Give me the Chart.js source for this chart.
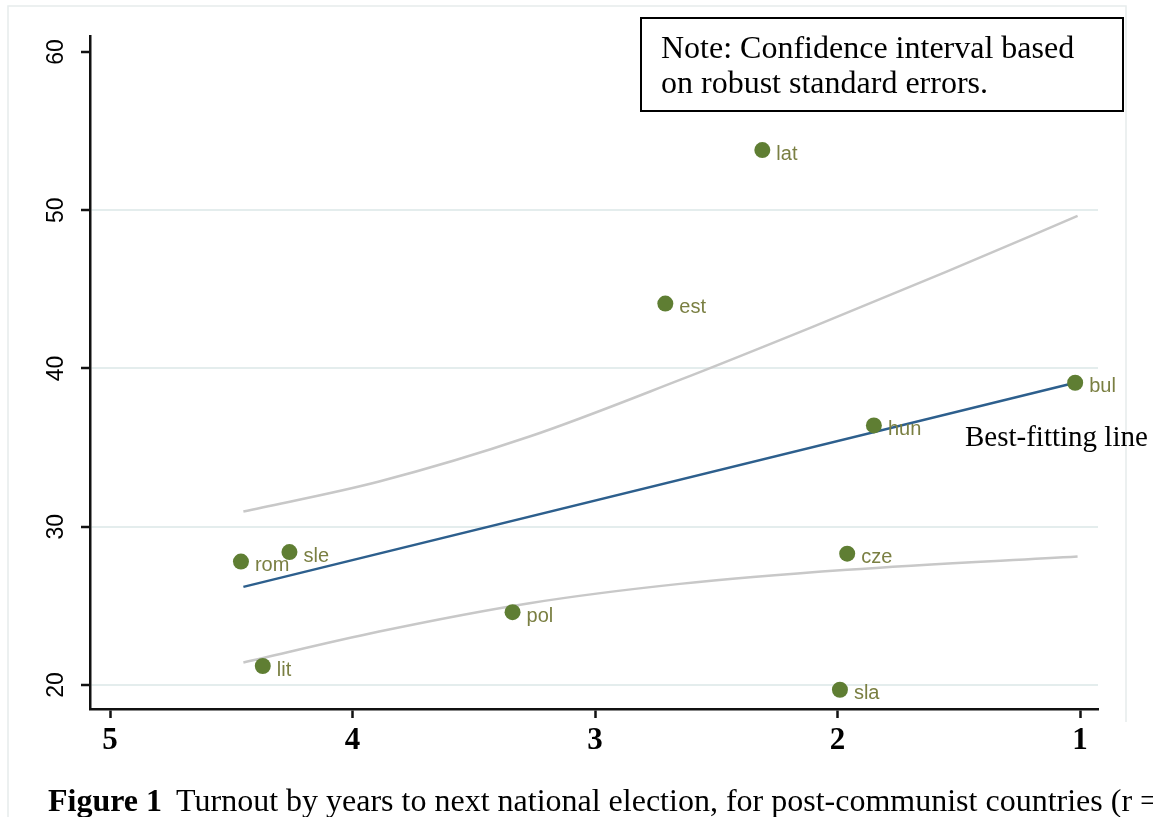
<!DOCTYPE html>
<html>
<head>
<meta charset="utf-8">
<style>
  html, body { margin: 0; padding: 0; background: #ffffff; }
  #wrap { position: relative; width: 1153px; height: 817px; overflow: hidden; }
  canvas { display: block; }
</style>
<script src="https://cdn.jsdelivr.net/npm/chart.js@4.4.1/dist/chart.umd.min.js"></script>
</head>
<body>
<div id="wrap"><canvas id="chart" width="1153" height="817"></canvas></div>
<script>
// Post-communist countries: years to next national election vs. turnout
const countries = ['lat', 'est', 'bul', 'hun', 'sle', 'rom', 'cze', 'pol', 'lit', 'sla'];
const yearsToElection = [2.31, 2.71, 1.02, 1.85, 4.26, 4.46, 1.96, 3.34, 4.37, 1.99];
const turnout = [53.8, 44.1, 39.1, 36.4, 28.4, 27.8, 28.3, 24.6, 21.2, 19.7];

// Best-fitting line (endpoints)
const fitX = [4.45, 1.02];
const fitY = [26.2, 39.1];

// Confidence band (robust standard errors)
const ciUpperX = [4.45, 3.89, 3.27, 2.65, 2.10, 1.55, 1.01];
const ciUpperY = [30.96, 32.86, 35.70, 39.28, 42.65, 46.12, 49.64];
const ciLowerX = [4.45, 3.89, 3.27, 2.65, 1.96, 1.01];
const ciLowerY = [21.42, 23.38, 25.17, 26.39, 27.28, 28.12];

// Tick labels
const xTicks = [5, 4, 3, 2, 1];
const yTicks = [20, 30, 40, 50, 60];

const noteLines = ['Note: Confidence interval based', 'on robust standard errors.'];
const fitLabel = 'Best-fitting line';
const captionBold = 'Figure 1';
const captionText = 'Turnout by years to next national election, for post-communist countries (r =';

const pts = (xs, ys) => xs.map((x, i) => ({ x: x, y: ys[i] }));

const SERIF = '"Liberation Serif", "Times New Roman", serif';
const SANS = '"Liberation Sans", Arial, sans-serif';

// Marker labels to the right of each point
const pointLabels = {
  id: 'pointLabels',
  afterDatasetsDraw(chart) {
    const meta = chart.getDatasetMeta(0);
    const ctx = chart.ctx;
    ctx.save();
    ctx.font = '20px ' + SANS;
    ctx.fillStyle = '#7a7f42';
    ctx.textAlign = 'left';
    ctx.textBaseline = 'middle';
    meta.data.forEach((el, i) => {
      ctx.fillText(countries[i], el.x + 14, el.y + 4);
    });
    ctx.restore();
  }
};

// Rotated y tick labels, frame, note box, annotation and caption
const decorations = {
  id: 'decorations',
  beforeDraw(chart) {
    const ctx = chart.ctx;
    ctx.save();
    ctx.fillStyle = '#ffffff';
    ctx.fillRect(0, 0, chart.width, chart.height);
    ctx.strokeStyle = '#e6ecec';
    ctx.lineWidth = 1.5;
    ctx.beginPath();
    ctx.moveTo(8, 817); ctx.lineTo(8, 6); ctx.lineTo(1126, 6); ctx.lineTo(1126, 722);
    ctx.stroke();
    ctx.restore();
  },
  afterDraw(chart) {
    const ctx = chart.ctx;
    const ys = chart.scales.y;
    ctx.save();
    // y tick labels, rotated
    ctx.font = '23px ' + SANS;
    ctx.fillStyle = '#000000';
    ctx.textAlign = 'center';
    ctx.textBaseline = 'middle';
    yTicks.forEach(v => {
      const py = ys.getPixelForValue(v);
      ctx.save();
      ctx.translate(57, py);
      ctx.rotate(-Math.PI / 2);
      ctx.fillText(String(v), 0, 0);
      ctx.restore();
    });
    // note box
    ctx.fillStyle = '#ffffff';
    ctx.fillRect(641, 18, 482, 93);
    ctx.strokeStyle = '#000000';
    ctx.lineWidth = 2;
    ctx.strokeRect(641, 18, 482, 93);
    ctx.fillStyle = '#000000';
    ctx.textAlign = 'left';
    ctx.textBaseline = 'alphabetic';
    ctx.font = '32px ' + SERIF;
    ctx.fillText(noteLines[0], 661, 58);
    ctx.fillText(noteLines[1], 661, 93);
    // fit line annotation
    ctx.font = '29px ' + SERIF;
    ctx.fillText(fitLabel, 965, 446);
    // caption
    ctx.font = 'bold 32px ' + SERIF;
    ctx.fillText(captionBold, 48, 811);
    const w = ctx.measureText(captionBold).width;
    ctx.font = '32px ' + SERIF;
    ctx.fillText(captionText, 48 + w + 14, 811);
    ctx.restore();
  }
};

new Chart(document.getElementById('chart'), {
  type: 'scatter',
  data: {
    datasets: [
      {
        label: 'Turnout',
        data: pts(yearsToElection, turnout),
        backgroundColor: '#5f7e33',
        borderColor: '#5f7e33',
        pointRadius: 8,
        pointBorderWidth: 0,
        order: 0
      },
      {
        label: 'Best-fitting line',
        data: pts(fitX, fitY),
        showLine: true,
        borderColor: '#2d5f8d',
        borderWidth: 2.5,
        pointRadius: 0,
        order: 1
      },
      {
        label: 'Upper CI',
        data: pts(ciUpperX, ciUpperY),
        showLine: true,
        borderColor: '#c8c8c8',
        borderWidth: 2.5,
        pointRadius: 0,
        cubicInterpolationMode: 'monotone',
        order: 2
      },
      {
        label: 'Lower CI',
        data: pts(ciLowerX, ciLowerY),
        showLine: true,
        borderColor: '#c8c8c8',
        borderWidth: 2.5,
        pointRadius: 0,
        cubicInterpolationMode: 'monotone',
        order: 2
      }
    ]
  },
  options: {
    responsive: false,
    animation: false,
    events: [],
    layout: { padding: { left: 0, right: 55, top: 36, bottom: 0 } },
    plugins: {
      legend: { display: false },
      tooltip: { enabled: false }
    },
    scales: {
      x: {
        type: 'linear',
        reverse: true,
        min: 0.9258,
        max: 5.0825,
        afterBuildTicks: s => { s.ticks = xTicks.map(v => ({ value: v })); },
        afterFit: s => { s.height = 108; },
        border: { display: true, color: '#111111', width: 2.5 },
        grid: {
          drawOnChartArea: false,
          drawTicks: true,
          tickLength: 9,
          tickColor: '#111111',
          tickWidth: 2.5
        },
        ticks: {
          color: '#000000',
          font: { family: SERIF, size: 31, weight: 'bold' },
          padding: 4,
          maxRotation: 0,
          callback: v => String(v)
        }
      },
      y: {
        type: 'linear',
        min: 18.483,
        max: 61.011,
        afterBuildTicks: s => { s.ticks = yTicks.map(v => ({ value: v })); },
        afterFit: s => { s.width = 90; },
        border: { display: true, color: '#111111', width: 2.5 },
        grid: {
          drawOnChartArea: true,
          color: ctx => (ctx.tick && ctx.tick.value === 60) ? 'rgba(0,0,0,0)' : '#e4eded',
          lineWidth: 2,
          drawTicks: true,
          tickLength: 9,
          tickColor: '#111111',
          tickWidth: 2.5
        },
        ticks: { display: false }
      }
    }
  },
  plugins: [pointLabels, decorations]
});
</script>
</body>
</html>
